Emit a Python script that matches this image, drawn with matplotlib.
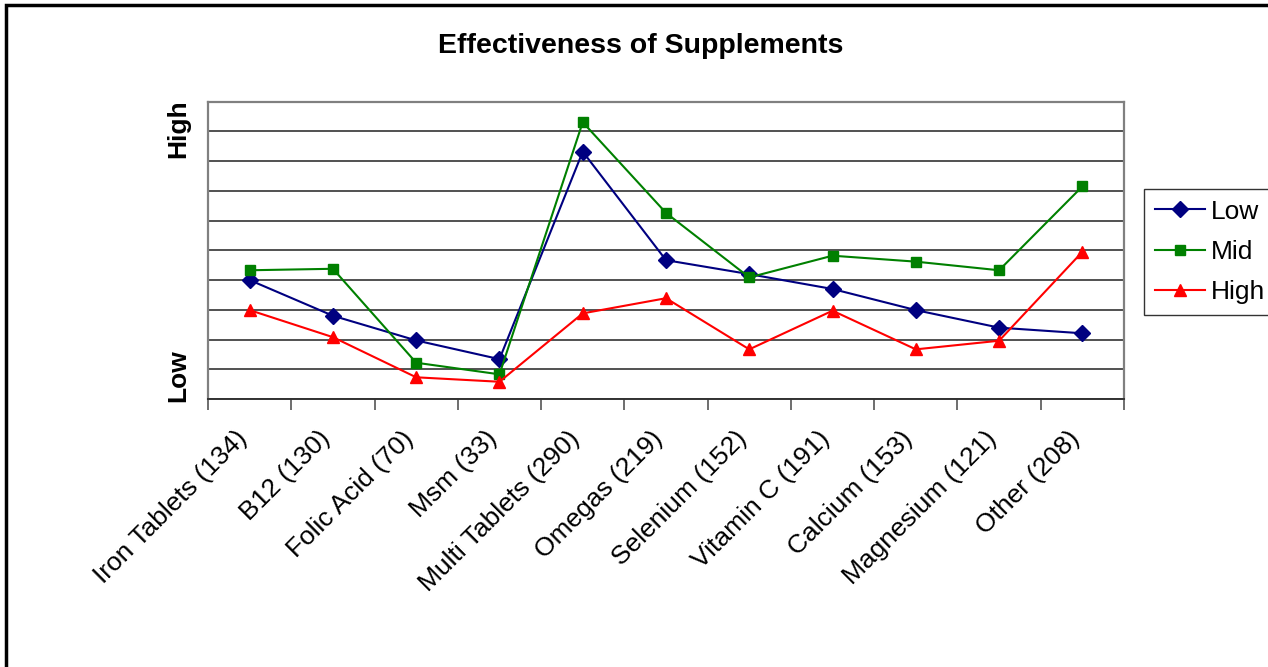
import numpy as np
import matplotlib
matplotlib.use("Agg")
import matplotlib.pyplot as plt
import matplotlib.transforms as mtransforms
from matplotlib.patches import Rectangle

plt.rcParams['font.family'] = ['Liberation Sans', 'DejaVu Sans']

# categories (number of responses in brackets)
categories = ["Iron Tablets (134)", "B12 (130)", "Folic Acid (70)", "Msm (33)",
              "Multi Tablets (290)", "Omegas (219)", "Selenium (152)",
              "Vitamin C (191)", "Calcium (153)", "Magnesium (121)", "Other (208)"]

# effectiveness scores, 0 = Low ... 10 = High
low_vals = [4.00, 2.80, 1.97, 1.34, 8.32, 4.67, 4.20, 3.70, 2.99, 2.40, 2.21]
mid_vals = [4.33, 4.38, 1.22, 0.83, 9.31, 6.26, 4.09, 4.82, 4.62, 4.33, 7.15]
high_vals = [2.99, 2.08, 0.73, 0.58, 2.88, 3.39, 1.67, 2.97, 1.67, 1.96, 4.95]


def plot_chart():
    fig = plt.figure(figsize=(12.68, 6.67), dpi=100)
    # outer frame of the chart object
    fig.patches.append(Rectangle((6/1268, -0.05), 1.2, 1 - 5/667 + 0.05,
                                 transform=fig.transFigure, fill=False,
                                 edgecolor='black', linewidth=2.5))

    ax = fig.add_axes([208/1268, 1 - 399/667, (1124 - 208)/1268, (399 - 101.7)/667])
    x = np.arange(len(categories))

    ax.plot(x, low_vals, color='#000080', marker='D', markersize=8, linewidth=1.5, label='Low')
    ax.plot(x, mid_vals, color='#008000', marker='s', markersize=7.5, linewidth=1.5, label='Mid')
    ax.plot(x, high_vals, color='#ff0000', marker='^', markersize=9, linewidth=1.5, label='High')

    ax.set_xlim(-0.5, len(categories) - 0.5)
    ax.set_ylim(0, 10)
    ax.set_yticks(np.arange(0, 11))
    ax.yaxis.grid(True, color='#333333', linewidth=1.2)
    ax.set_axisbelow(True)
    ax.tick_params(axis='y', length=0, labelleft=False)

    ax.set_xticks(x)
    ax.set_xticklabels(categories, rotation=45, ha='right', va='top',
                       rotation_mode='anchor', fontsize=19)
    ax.tick_params(axis='x', which='major', length=0, pad=11)
    # Excel puts the rotated labels a bit further down-left
    shift = mtransforms.ScaledTranslation(-0.15, -0.12, fig.dpi_scale_trans)
    for lab in ax.get_xticklabels():
        lab.set_transform(lab.get_transform() + shift)
    ax.set_xticks(np.arange(-0.5, len(categories)), minor=True)
    ax.tick_params(axis='x', which='minor', length=8, width=1.2, color='#555555')

    for side in ['top', 'left', 'right']:
        ax.spines[side].set_color('#808080')
        ax.spines[side].set_linewidth(1.6)
    ax.spines['bottom'].set_color('#333333')
    ax.spines['bottom'].set_linewidth(1.4)

    ax.text(-0.033, 0.91, "High", transform=ax.transAxes, rotation=90,
            ha='center', va='center', fontsize=19, fontweight='bold')
    ax.text(-0.033, 0.08, "Low", transform=ax.transAxes, rotation=90,
            ha='center', va='center', fontsize=19, fontweight='bold')

    fig.text(641/1268, 1 - 46/667, "Effectiveness of Supplements",
             ha='center', va='center', fontsize=20.5, fontweight='bold')

    leg = fig.legend(loc='upper left', bbox_to_anchor=(1144/1268, 1 - 189/667),
                     fontsize=19, frameon=True, fancybox=False, handlelength=1.9,
                     borderpad=0.4, labelspacing=0.62, handletextpad=0.25,
                     borderaxespad=0)
    leg.get_frame().set_edgecolor('black')
    leg.get_frame().set_linewidth(1.0)

    fig.savefig("out.png", dpi=100)


plot_chart()
